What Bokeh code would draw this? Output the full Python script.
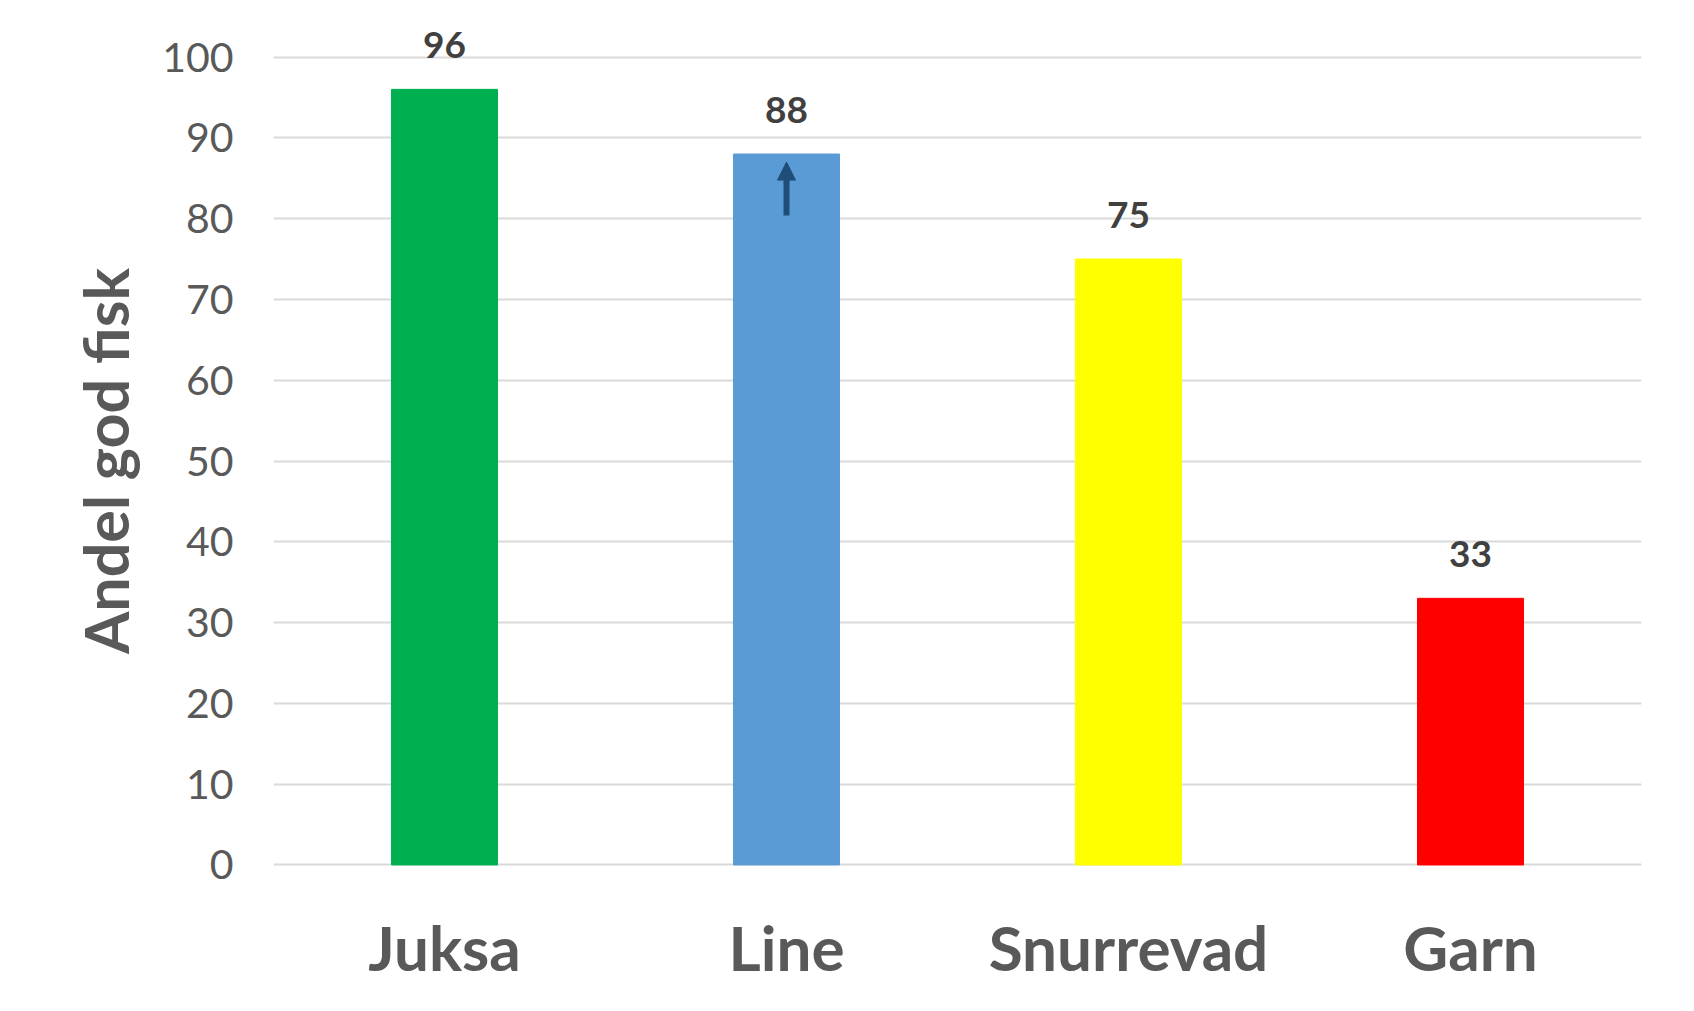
from bokeh.plotting import figure
from bokeh.models import ColumnDataSource, Range1d, FixedTicker, LabelSet, Arrow, NormalHead
from bokeh.core.properties import value
from bokeh.embed import file_html
from bokeh.resources import INLINE

categories = ["Juksa", "Line", "Snurrevad", "Garn"]
values = [96, 88, 75, 33]
colors = ["#00b050", "#5b9bd5", "#ffff00", "#ff0000"]
y_ticks = [0, 10, 20, 30, 40, 50, 60, 70, 80, 90, 100]
y_title = "Andel god fisk"

FONT = "Lato"
W, H = 1678, 995
ppu = 8.09
y_lo, y_hi = -7, 107
top_frame = 55.7 - (y_hi - 100) * ppu
bot_frame = 864.7 - y_lo * ppu
left_frame = 273
right_frame = 1641

src = ColumnDataSource(dict(cat=categories, val=values, col=colors, lab=[str(v) for v in values]))

p = figure(x_range=categories, y_range=Range1d(y_lo, y_hi), width=W, height=H,
           output_backend="svg", toolbar_location=None,
           min_border_left=left_frame, min_border_right=W - right_frame,
           min_border_top=int(round(top_frame)), min_border_bottom=int(round(H - bot_frame)))
p.outline_line_color = None
p.background_fill_color = "white"
p.border_fill_color = "white"

p.vbar(x="cat", top="val", bottom=0, width=0.31, color="col", source=src)

labels = LabelSet(x="cat", y="val", text="lab", source=src, text_align="center",
                  text_baseline="alphabetic", y_offset=31, text_font=value(FONT),
                  text_font_size="37px", text_color="#404040", text_font_style="bold")
p.add_layout(labels)

p.add_layout(Arrow(end=NormalHead(size=18, fill_color="#1f4e79", line_color="#1f4e79"),
                   x_start=1.5, y_start=80.4, x_end=1.5, y_end=87.0,
                   line_color="#1f4e79", line_width=6))

p.ygrid.ticker = FixedTicker(ticks=y_ticks)
p.ygrid.grid_line_color = "#d9d9d9"
p.ygrid.grid_line_width = 2
p.xgrid.grid_line_color = None

p.yaxis.ticker = FixedTicker(ticks=y_ticks)
p.yaxis.axis_line_color = None
p.yaxis.major_tick_line_color = None
p.yaxis.minor_tick_line_color = None
p.yaxis.major_tick_out = 0
p.yaxis.major_label_standoff = 40
p.yaxis.major_label_text_font = FONT
p.yaxis.major_label_text_font_size = "41px"
p.yaxis.major_label_text_color = "#595959"
p.yaxis.axis_label = y_title
p.yaxis.axis_label_text_font = FONT
p.yaxis.axis_label_text_font_size = "61px"
p.yaxis.axis_label_text_font_style = "bold"
p.yaxis.axis_label_text_color = "#595959"
p.yaxis.axis_label_standoff = 17

p.xaxis.axis_line_color = None
p.xaxis.major_tick_line_color = None
p.xaxis.minor_tick_line_color = None
p.xaxis.major_tick_out = 0
p.xaxis.major_label_standoff = -12
p.xaxis.major_label_text_font = FONT
p.xaxis.major_label_text_font_size = "62px"
p.xaxis.major_label_text_font_style = "bold"
p.xaxis.major_label_text_color = "#595959"

open("out.html", "w").write(file_html(p, INLINE))
